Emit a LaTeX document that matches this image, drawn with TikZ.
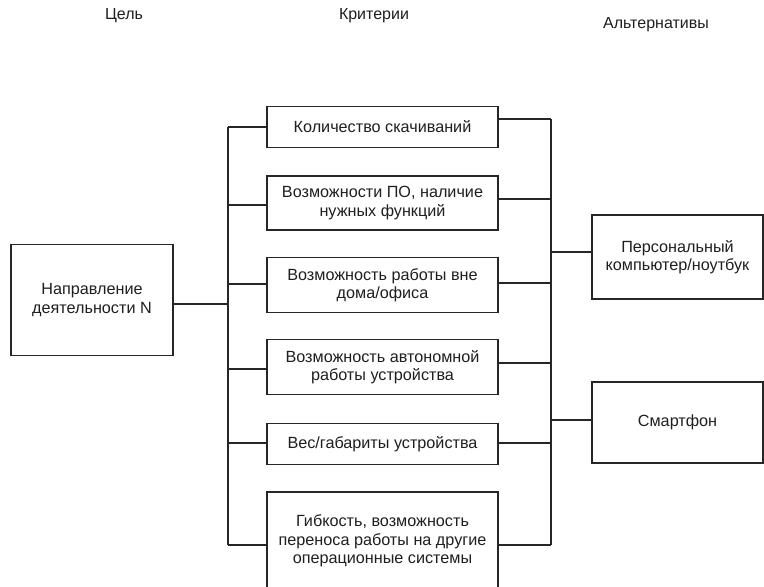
\documentclass[tikz,border=0pt]{standalone}
\usepackage{fontspec}
\setmainfont{Liberation Sans}
\begin{document}
\begin{tikzpicture}[x=1pt,y=-1pt,
  box/.style={draw=black!85,line width=1.7pt,align=center,inner sep=0pt,
    font=\fontsize{16.2}{18.5}\selectfont,text=black!88},
  conn/.style={draw=black!85,line width=1.6pt},
  head/.style={font=\fontsize{16}{18}\selectfont,text=black!88}]
\useasboundingbox (0,0) rectangle (764,587);
\clip (0,0) rectangle (764,587);
\fill[white] (0,0) rectangle (764,587);
% headers
\node[head] (h1) at (124,16) {Цель};
\node[head] (h2) at (374,16) {Критерии};
\node[head] (h3) at (656,25) {Альтернативы};
% goal
\node[box,minimum width=162pt,minimum height=111pt] (goal) at (92,300) {Направление\\деятельности N};
% criteria
\node[box,minimum width=231pt,minimum height=41pt] (c1) at (382.5,127) {Количество скачиваний};
\node[box,minimum width=231pt,minimum height=54pt] (c2) at (382.5,203) {Возможности ПО, наличие\\нужных функций};
\node[box,minimum width=231pt,minimum height=55pt] (c3) at (382.5,285) {Возможность работы вне\\дома/офиса};
\node[box,minimum width=231pt,minimum height=55pt] (c4) at (382.5,367) {Возможность автономной\\работы устройства};
\node[box,minimum width=231pt,minimum height=41pt] (c5) at (382.5,444) {Вес/габариты устройства};
\node[box,minimum width=231pt,minimum height=98pt] (c6) at (382.5,541) {Гибкость, возможность\\переноса работы на другие\\операционные системы};
% alternatives
\node[box,minimum width=171pt,minimum height=84pt] (a1) at (677.5,257) {Персональный\\компьютер/ноутбук};
\node[box,minimum width=171pt,minimum height=81pt] (a2) at (677.5,422.5) {Смартфон};
% left bus points
\coordinate (lt) at (228,127);
\coordinate (l2) at (228,205);
\coordinate (l3) at (228,284);
\coordinate (l4) at (228,369);
\coordinate (l5) at (228,443);
\coordinate (lb) at (228,545);
\coordinate (lg) at (228,304);
% right bus points
\coordinate (r1) at (551,119);
\coordinate (r2) at (551,199);
\coordinate (r3) at (551,283);
\coordinate (r4) at (551,363);
\coordinate (r5) at (551,443);
\coordinate (r6) at (551,545);
\coordinate (ra1) at (551,252);
\coordinate (ra2) at (551,420);
\draw[conn] (lt) -- (lb);
\draw[conn] (r1) -- (r6);
\draw[conn] (goal.east |- lg) -- (lg);
\draw[conn] (c1.west |- lt) -- (lt);
\draw[conn] (c2.west |- l2) -- (l2);
\draw[conn] (c3.west |- l3) -- (l3);
\draw[conn] (c4.west |- l4) -- (l4);
\draw[conn] (c5.west |- l5) -- (l5);
\draw[conn] (c6.west |- lb) -- (lb);
\draw[conn] (c1.east |- r1) -- (r1);
\draw[conn] (c2.east |- r2) -- (r2);
\draw[conn] (c3.east |- r3) -- (r3);
\draw[conn] (c4.east |- r4) -- (r4);
\draw[conn] (c5.east |- r5) -- (r5);
\draw[conn] (c6.east |- r6) -- (r6);
\draw[conn] (ra1) -- (a1.west |- ra1);
\draw[conn] (ra2) -- (a2.west |- ra2);
\end{tikzpicture}
\end{document}
